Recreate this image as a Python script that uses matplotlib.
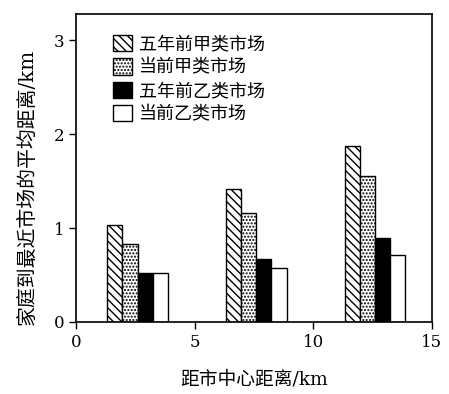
import matplotlib
matplotlib.use('Agg')
import matplotlib.pyplot as plt
import numpy as np

plt.rcParams['font.family'] = ['DejaVu Serif', 'Noto Sans CJK SC']
plt.rcParams['hatch.linewidth'] = 1.0

# data
group_centers = [2.6, 7.6, 12.6]
series_names = ['五年前甲类市场', '当前甲类市场', '五年前乙类市场', '当前乙类市场']
jia_before = [1.03, 1.42, 1.88]
jia_now = [0.83, 1.16, 1.56]
yi_before = [0.52, 0.67, 0.89]
yi_now = [0.52, 0.57, 0.71]
x_ticks = [0, 5, 10, 15]
y_ticks = [0, 1, 2, 3]

series = [jia_before, jia_now, yi_before, yi_now]
styles = [
    dict(facecolor='white', hatch='\\\\\\\\'),
    dict(facecolor='white', hatch='.....'),
    dict(facecolor='black', hatch=None),
    dict(facecolor='white', hatch=None),
]

fig = plt.figure(figsize=(4.49, 3.94), dpi=100)
ax = fig.add_axes([0.169, 0.183, 0.793, 0.781])

w = 0.64
centers = np.array(group_centers)
for i, (vals, st) in enumerate(zip(series, styles)):
    ax.bar(centers + (i - 1.5) * w, vals, width=w, edgecolor='black',
           linewidth=1.0, label=series_names[i], **st)

ax.set_xlim(0, 15)
ax.set_ylim(0, 3.28)
ax.set_xticks(x_ticks)
ax.set_yticks(y_ticks)
ax.tick_params(axis='both', direction='out', length=5, width=1.0,
               labelsize=12)
for s in ax.spines.values():
    s.set_linewidth(1.2)

mixed = ['DejaVu Serif', 'Noto Sans CJK SC']
ax.set_xlabel('距市中心距离/km', fontsize=13.5, labelpad=14,
              family=mixed, fontweight='medium')
ax.set_ylabel('家庭到最近市场的平均距离/km', fontsize=14.3,
              family=mixed, fontweight='medium')
ax.yaxis.set_label_coords(-0.11, 0.44)

ax.legend(loc='upper left', bbox_to_anchor=(0.06, 0.985), frameon=False,
          handlelength=1.0, handleheight=1.0,
          handletextpad=0.4, labelspacing=0.28,
          prop={'family': ['Noto Sans CJK SC'], 'size': 13, 'weight': 'medium'})

fig.savefig('out.png', dpi=100, facecolor='white')
